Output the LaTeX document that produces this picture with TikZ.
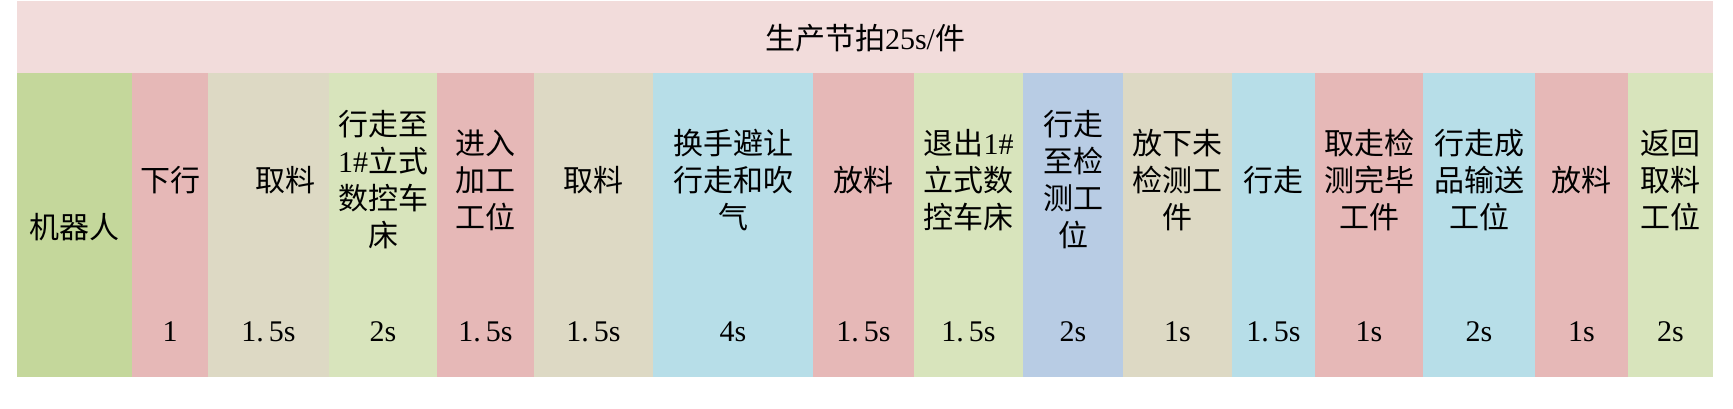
\documentclass[tikz,border=0pt]{standalone}
\usepackage{fontspec}
\setmainfont{Liberation Serif}
\newfontfamily\cjk{Noto Sans CJK SC}
\definecolor{bandpink}{HTML}{F2DCDB}
\definecolor{rgreen}{HTML}{C4D79B}
\definecolor{rpink}{HTML}{E6B8B7}
\definecolor{rtan}{HTML}{DDD9C4}
\definecolor{lgreen}{HTML}{D8E4BC}
\definecolor{lblue}{HTML}{B7DEE8}
\definecolor{sblue}{HTML}{B8CCE4}
\newcommand{\pk}{.\kern5pt}
\newcommand{\lat}[1]{{\rmfamily #1}}
\begin{document}
\begin{tikzpicture}[x=1pt,y=-1pt,
  lbl/.style={align=center,inner sep=0pt,font=\cjk\fontsize{30}{37}\selectfont},
  num/.style={inner sep=0pt,font=\rmfamily\fontsize{30}{37}\selectfont}]
\useasboundingbox (0,0) rectangle (1733,408);
\fill[white] (0,0) rectangle (1733,408);
\fill[bandpink] (17,1) rectangle (1713,73);
\foreach \a/\b/\c in {17/132/rgreen,132/208/rpink,208/329/rtan,329/437/lgreen,
  437/534/rpink,534/653/rtan,653/813/lblue,813/914/rpink,914/1023/lgreen,
  1023/1123/sblue,1123/1232/rtan,1232/1315/lblue,1315/1423/rpink,
  1423/1535/lblue,1535/1628/rpink,1628/1713/lgreen}
  \fill[\c] (\a,73) rectangle (\b,377);
\node[lbl] (title) at (865,38) {生产节拍\lat{25s/}件};
\node[lbl] (robot) at (74.5,227) {机器人};
% step labels
\node[lbl] (s1) at (170,180) {下行};
\node[lbl] (s2) at (285,180) {取料};
\node[lbl] (s3) at (383,180) {行走至\\\lat{1\#}立式\\数控车\\床};
\node[lbl] (s4) at (485.5,180) {进入\\加工\\工位};
\node[lbl] (s5) at (593.5,180) {取料};
\node[lbl] (s6) at (733,180) {换手避让\\行走和吹\\气};
\node[lbl] (s7) at (863.5,180) {放料};
\node[lbl] (s8) at (968.5,180) {退出\lat{1\#}\\立式数\\控车床};
\node[lbl] (s9) at (1073,180) {行走\\至检\\测工\\位};
\node[lbl] (s10) at (1177.5,180) {放下未\\检测工\\件};
\node[lbl] (s11) at (1273.5,180) {行走};
\node[lbl] (s12) at (1369,180) {取走检\\测完毕\\工件};
\node[lbl] (s13) at (1479,180) {行走成\\品输送\\工位};
\node[lbl] (s14) at (1581.5,180) {放料};
\node[lbl] (s15) at (1670.5,180) {返回\\取料\\工位};
% times
\node[num] (t1) at (170,332) {1};
\node[num] (t2) at (268.5,332) {1\pk 5s};
\node[num] (t3) at (383,332) {2s};
\node[num] (t4) at (485.5,332) {1\pk 5s};
\node[num] (t5) at (593.5,332) {1\pk 5s};
\node[num] (t6) at (733,332) {4s};
\node[num] (t7) at (863.5,332) {1\pk 5s};
\node[num] (t8) at (968.5,332) {1\pk 5s};
\node[num] (t9) at (1073,332) {2s};
\node[num] (t10) at (1177.5,332) {1s};
\node[num] (t11) at (1273.5,332) {1\pk 5s};
\node[num] (t12) at (1369,332) {1s};
\node[num] (t13) at (1479,332) {2s};
\node[num] (t14) at (1581.5,332) {1s};
\node[num] (t15) at (1670.5,332) {2s};
\end{tikzpicture}
\end{document}
